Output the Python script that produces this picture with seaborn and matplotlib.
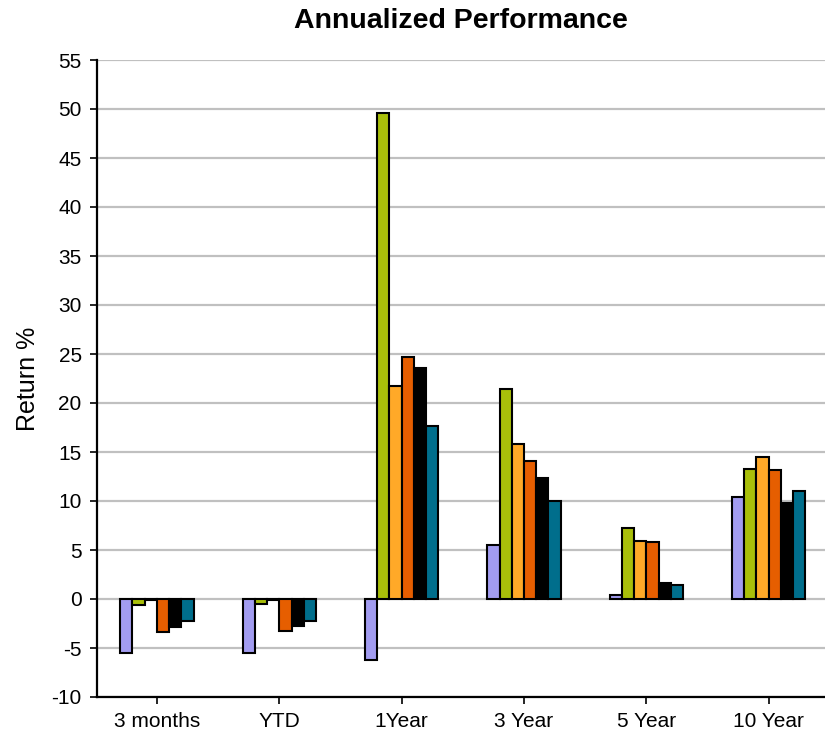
import pandas as pd
import matplotlib
matplotlib.use('Agg')
import matplotlib.pyplot as plt
import seaborn as sns

# periods on the x axis
periods = ['3 months', 'YTD', '1Year', '3 Year', '5 Year', '10 Year']

# one list per series (no legend in the original, so names are generic)
series_names = ['Series 1', 'Series 2', 'Series 3', 'Series 4', 'Series 5', 'Series 6']
s1 = [-5.5, -5.5, -6.2, 5.5, 0.4, 10.4]
s2 = [-0.6, -0.5, 49.6, 21.4, 7.2, 13.3]
s3 = [-0.1, -0.1, 21.7, 15.8, 5.9, 14.5]
s4 = [-3.4, -3.3, 24.7, 14.1, 5.8, 13.2]
s5 = [-2.9, -2.8, 23.6, 12.3, 1.6, 9.8]
s6 = [-2.2, -2.2, 17.7, 10.0, 1.4, 11.0]

colors = ['#A29CF0', '#A9BF0A', '#FFA928', '#E65E00', '#000000', '#006E8C']

rows = []
for name, vals in zip(series_names, [s1, s2, s3, s4, s5, s6]):
    for p, v in zip(periods, vals):
        rows.append({'Period': p, 'Series': name, 'Return': v})
df = pd.DataFrame(rows)

sns.set_style('white')
plt.rcParams['font.family'] = ['Liberation Sans', 'DejaVu Sans']
plt.rcParams['axes.unicode_minus'] = False
plt.rcParams['text.color'] = 'black'
plt.rcParams['axes.labelcolor'] = 'black'
plt.rcParams['xtick.color'] = 'black'
plt.rcParams['ytick.color'] = 'black'

fig = plt.figure(figsize=(8.25, 7.41), dpi=100)
ax = fig.add_axes([97 / 825, 44 / 741, 728 / 825, 637 / 741])

sns.barplot(data=df, x='Period', y='Return', hue='Series', order=periods,
            hue_order=series_names, palette=colors, saturation=1, width=0.6, gap=0,
            edgecolor='black', linewidth=1.5, legend=False, ax=ax, zorder=3)

ax.set_ylim(-10, 55)
ax.set_yticks(range(-10, 56, 5))
ax.set_xlim(-0.49, 5.46)
ax.yaxis.grid(True, color='#C0C0C0', linewidth=1.6, zorder=0)
ax.set_axisbelow(True)

for side in ['top', 'right']:
    ax.spines[side].set_visible(False)
for side in ['left', 'bottom']:
    ax.spines[side].set_color('black')
    ax.spines[side].set_linewidth(1.6)

ax.tick_params(axis='y', left=True, length=5, width=1.2, labelsize=15, pad=6)
ax.tick_params(axis='x', bottom=True, length=5, width=1.2, labelsize=15, pad=6)

ax.set_xlabel('')
ax.set_ylabel('Return %', fontsize=18, labelpad=8)
ax.set_title('Annualized Performance', fontsize=20.5, fontweight='bold', pad=23)

fig.savefig('out.png', dpi=100)
